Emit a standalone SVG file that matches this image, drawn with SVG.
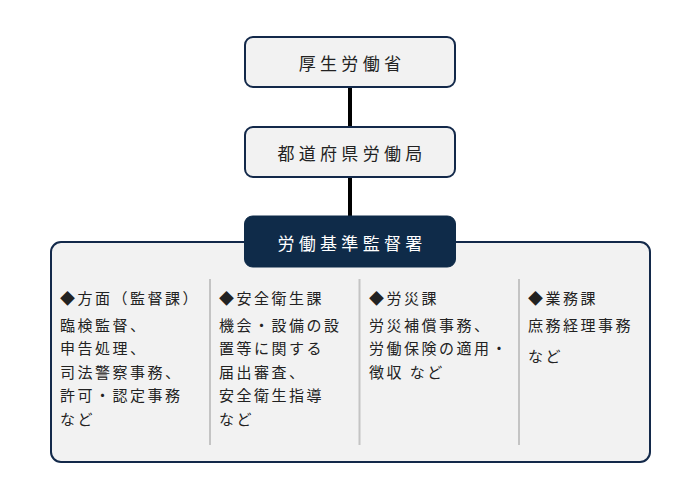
<svg xmlns="http://www.w3.org/2000/svg" width="700" height="500" viewBox="0 0 700 500">
<style>
text{font-family:"Noto Sans CJK JP","Noto Sans",sans-serif;dominant-baseline:central}
.box{fill:#f2f2f2;stroke:#13294a;stroke-width:2}
.title{font-size:17px;letter-spacing:4.3px;fill:#222;text-anchor:middle}
.dark{fill:#0f2b49;stroke:#0f2b49;stroke-width:1}
.wt{fill:#fff}
.body{font-size:15px;letter-spacing:2.5px;fill:#222}
.div{stroke:#c4c4c4;stroke-width:2}
.conn{stroke:#000;stroke-width:4}
</style>
<g id="connectors">
<line class="conn" x1="350" y1="87" x2="350" y2="127"/>
<line class="conn" x1="350" y1="177" x2="350" y2="217"/>
</g>
<g id="node-mhlw">
<rect class="box" x="245" y="37" width="210" height="50" rx="8"/>
<text class="title" x="352" y="62">厚生労働省</text>
</g>
<g id="node-bureau">
<rect class="box" x="245" y="127" width="210" height="50" rx="8"/>
<text class="title" x="352" y="152">都道府県労働局</text>
</g>
<g id="node-office-panel">
<rect class="box" x="51" y="242" width="599" height="220" rx="10"/>
<line class="div" x1="210" y1="279" x2="210" y2="445"/>
<line class="div" x1="359.5" y1="279" x2="359.5" y2="445"/>
<line class="div" x1="519" y1="279" x2="519" y2="445"/>
<g id="col-hohmen">
<text class="body" x="60" y="297">◆方面（監督課）</text>
<text class="body" x="60" y="324">臨検監督、</text>
<text class="body" x="60" y="347.5">申告処理、</text>
<text class="body" x="60" y="371">司法警察事務、</text>
<text class="body" x="60" y="394.5">許可・認定事務</text>
<text class="body" x="60" y="418">など</text>
</g>
<g id="col-anzen">
<text class="body" x="219" y="297">◆安全衛生課</text>
<text class="body" x="219" y="324">機会・設備の設</text>
<text class="body" x="219" y="347.5">置等に関する</text>
<text class="body" x="219" y="371">届出審査、</text>
<text class="body" x="219" y="394.5">安全衛生指導</text>
<text class="body" x="219" y="418">など</text>
</g>
<g id="col-rousai">
<text class="body" x="369" y="297">◆労災課</text>
<text class="body" x="369" y="324">労災補償事務、</text>
<text class="body" x="369" y="347.5">労働保険の適用・</text>
<text class="body" x="369" y="371">徴収 など</text>
</g>
<g id="col-gyomu">
<text class="body" x="528" y="297">◆業務課</text>
<text class="body" x="528" y="324">庶務経理事務</text>
<text class="body" x="528" y="355">など</text>
</g>
</g>
<g id="node-office">
<rect class="dark" x="244.5" y="216" width="211" height="51" rx="8"/>
<text class="title wt" x="352" y="242.5">労働基準監督署</text>
</g>
</svg>
